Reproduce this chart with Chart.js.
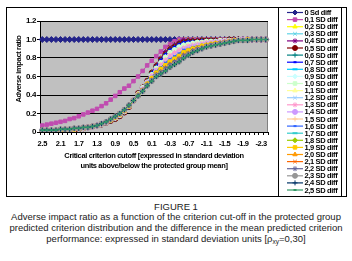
<!DOCTYPE html>
<html><head><meta charset="utf-8">
<script src="https://cdn.jsdelivr.net/npm/chart.js@4"></script>
<style>
html,body{margin:0;padding:0;background:#fff;width:352px;height:261px;overflow:hidden}
#wrap{position:relative;width:352px;height:261px}
canvas{position:absolute;left:0;top:0}
#cap{position:absolute;left:0;top:201.5px;width:352px;text-align:center;font-family:'Liberation Sans',Arial,sans-serif;font-size:9.5px;line-height:10.8px;color:#1a1a1a;white-space:nowrap}
#cap sub{font-size:6.5px;line-height:0;vertical-align:-2px}
</style></head><body>
<div id="wrap"><canvas id="c" width="352" height="200"></canvas>
<div id="cap">FIGURE 1<br>Adverse impact ratio as a function of the criterion cut-off in the protected group<br>predicted criterion distribution and the difference in the mean predicted criterion<br>performance: expressed in standard deviation units [ρ<sub>xy</sub>=0,30]</div></div>
<script>
// categories: criterion cutoff (SD units)
const cutoffs = ['2.5','2.4','2.3','2.2','2.1','2.0','1.9','1.8','1.7','1.6','1.5','1.4','1.3','1.2','1.1','1.0','0.9','0.8','0.7','0.6','0.5','0.4','0.3','0.2','0.1','0.0','-0.1','-0.2','-0.3','-0.4','-0.5','-0.6','-0.7','-0.8','-0.9','-1.0','-1.1','-1.2','-1.3','-1.4','-1.5','-1.6','-1.7','-1.8','-1.9','-2.0','-2.1','-2.2','-2.3','-2.4'];

const seriesNames = ['0 Sd diff','0,1 SD diff','0,2 SD diff','0,3 SD diff','0,4 SD diff','0,5 SD diff','0,6 SD diff','0,7 SD diff','0,8 SD diff','0,9 SD diff','1,0 SD diff','1,1 SD diff','1,2 SD diff','1,3 SD diff','1,4 SD diff','1,5 SD diff','1,6 SD diff','1,7 SD diff','1,8 SD diff','1,9 SD diff','2,0 SD diff','2,1 SD diff','2,2 SD diff','2,3 SD diff','2,4 SD diff','2,5 SD diff'];

// adverse impact ratio values
const ratio0SD = [1,1,1,1,1,1,1,1,1,1,1,1,1,1,1,1,1,1,1,1,1,1,1,1,1,1,1,1,1,1,1,1,1,1,1,1,1,1,1,1,1,1,1,1,1,1,1,1,1,1];
const ratio01SD = [0.07,0.08,0.09,0.10,0.11,0.12,0.14,0.15,0.17,0.19,0.21,0.23,0.25,0.28,0.31,0.35,0.39,0.43,0.47,0.50,0.55,0.60,0.66,0.72,0.77,0.82,0.87,0.92,0.95,0.98,1,1,1,1,1,1,1,1,1,1,1,1,1,1,1,1,1,1,1,1];
// the 0,2 - 2,5 SD curves overlap heavily; read as bands of three series each
const ratio02to04SD = [0.01,0.01,0.01,0.01,0.01,0.02,0.02,0.02,0.03,0.04,0.05,0.06,0.07,0.08,0.10,0.12,0.14,0.17,0.21,0.27,0.34,0.42,0.49,0.56,0.65,0.73,0.80,0.87,0.92,0.95,0.98,1,1,1,1,1,1,1,1,1,1,1,1,1,1,1,1,1,1,1];
const ratio05to07SD = [0.01,0.01,0.01,0.01,0.01,0.02,0.02,0.02,0.03,0.04,0.05,0.06,0.07,0.08,0.10,0.12,0.14,0.17,0.21,0.27,0.34,0.42,0.48,0.55,0.64,0.71,0.78,0.84,0.89,0.92,0.95,0.97,0.98,0.98,0.98,0.99,0.99,0.99,0.99,0.99,0.99,1,1,1,1,1,1,1,1,1];
const ratio08to10SD = [0.01,0.01,0.01,0.01,0.02,0.02,0.02,0.03,0.03,0.04,0.05,0.06,0.07,0.08,0.10,0.13,0.15,0.18,0.22,0.28,0.34,0.41,0.48,0.54,0.62,0.69,0.75,0.81,0.86,0.89,0.92,0.94,0.95,0.96,0.97,0.97,0.98,0.98,0.98,0.99,0.99,0.99,0.99,1,1,1,1,1,1,1];
const ratio11to13SD = [0.01,0.01,0.01,0.01,0.02,0.02,0.02,0.03,0.03,0.04,0.05,0.06,0.07,0.08,0.10,0.13,0.15,0.18,0.22,0.28,0.34,0.41,0.47,0.53,0.61,0.67,0.73,0.78,0.83,0.86,0.89,0.91,0.93,0.94,0.95,0.96,0.97,0.97,0.97,0.98,0.98,0.99,0.99,1,1,1,1,1,1,1];
const ratio14to16SD = [0.02,0.02,0.02,0.02,0.02,0.03,0.03,0.03,0.04,0.05,0.05,0.06,0.07,0.09,0.11,0.13,0.16,0.19,0.23,0.28,0.34,0.40,0.46,0.53,0.59,0.66,0.70,0.75,0.79,0.82,0.85,0.89,0.90,0.92,0.93,0.94,0.95,0.96,0.97,0.97,0.98,0.98,0.99,0.99,1,1,1,1,1,1];
const ratio17to19SD = [0.02,0.02,0.02,0.02,0.02,0.03,0.03,0.03,0.04,0.05,0.05,0.06,0.07,0.09,0.11,0.13,0.16,0.19,0.23,0.28,0.34,0.40,0.45,0.52,0.58,0.64,0.68,0.72,0.76,0.79,0.82,0.86,0.88,0.90,0.91,0.93,0.94,0.95,0.96,0.96,0.97,0.98,0.99,0.99,0.99,1,1,1,1,1];
const ratio20to22SD = [0.02,0.02,0.02,0.02,0.03,0.03,0.03,0.04,0.04,0.05,0.05,0.06,0.07,0.09,0.11,0.14,0.17,0.20,0.24,0.29,0.34,0.39,0.45,0.51,0.56,0.62,0.65,0.69,0.73,0.76,0.79,0.83,0.85,0.88,0.90,0.91,0.93,0.94,0.95,0.96,0.97,0.97,0.98,0.99,0.99,0.99,1,1,1,1];
const ratio23to25SD = [0.02,0.02,0.02,0.02,0.03,0.03,0.03,0.04,0.04,0.05,0.05,0.06,0.07,0.09,0.11,0.14,0.17,0.20,0.24,0.29,0.34,0.39,0.44,0.50,0.55,0.60,0.63,0.66,0.70,0.73,0.76,0.80,0.83,0.86,0.88,0.90,0.92,0.93,0.94,0.95,0.96,0.97,0.98,0.99,0.99,0.99,1,1,1,1];

const seriesData = [ratio0SD, ratio01SD,
  ratio02to04SD, ratio02to04SD, ratio02to04SD,
  ratio05to07SD, ratio05to07SD, ratio05to07SD,
  ratio08to10SD, ratio08to10SD, ratio08to10SD,
  ratio11to13SD, ratio11to13SD, ratio11to13SD,
  ratio14to16SD, ratio14to16SD, ratio14to16SD,
  ratio17to19SD, ratio17to19SD, ratio17to19SD,
  ratio20to22SD, ratio20to22SD, ratio20to22SD,
  ratio23to25SD, ratio23to25SD, ratio23to25SD];

const yTicks = [0, 0.2, 0.4, 0.6, 0.8, 1, 1.2];

const colors = ['#23238a','#c04cb0','#ffff00','#5fd4e6','#800080','#800000','#008080','#0000ff','#00ccff','#ccffff','#ccffcc','#ffff99','#99ccff','#ff99cc','#cc99ff','#ffcc99','#3366ff','#33cccc','#99cc00','#ffcc00','#ff9900','#ff6600','#666699','#969696','#003366','#339966'];
const markers = ['rectRot','rect','triangle','crossRot','star','circle','cross','line','line'];

const FONT = "'Liberation Sans',Arial,sans-serif";
const SPACING = '-0.35px';
const N = seriesNames.length;

const datasets = seriesNames.map((name, i) => {
  const m = markers[i % 9];
  return {
    label: name,
    data: seriesData[i],
    borderColor: colors[i],
    backgroundColor: colors[i],
    pointBackgroundColor: colors[i],
    pointBorderColor: colors[i],
    pointStyle: m,
    pointRadius: m === 'line' ? (i % 9 === 7 ? 1.5 : 2.5) : (i === 0 ? 3 : 2.5),
    pointBorderWidth: m === 'line' ? 2 : 1,
    borderWidth: 1,
    fill: false,
    tension: 0,
    order: N - i
  };
});

const plotBg = {
  id: 'plotBg',
  beforeDraw(chart) {
    const {ctx, chartArea: a} = chart;
    ctx.letterSpacing = SPACING;
    ctx.save();
    ctx.fillStyle = '#c0c0c0';
    ctx.fillRect(a.left, a.top, a.right - a.left, a.bottom - a.top);
    ctx.strokeStyle = '#808080';
    ctx.lineWidth = 1;
    ctx.strokeRect(a.left + 0.5, a.top + 0.5, a.right - a.left - 1, a.bottom - a.top);
    ctx.restore();
  }
};

function drawMarker(ctx, style, r, bw, x, y) {
  if (Chart.helpers && Chart.helpers.drawPoint) {
    ctx.lineWidth = bw;
    Chart.helpers.drawPoint(ctx, {pointStyle: style, radius: r, rotation: 0, borderWidth: bw}, x, y);
  }
}

const frame = {
  id: 'frame',
  afterDraw(chart) {
    const ctx = chart.ctx;
    ctx.save();
    ctx.letterSpacing = SPACING;
    ctx.strokeStyle = '#000';
    ctx.lineWidth = 1;
    ctx.strokeRect(6.5, 7.5, 340, 189);
    ctx.strokeRect(278.5, 7.5, 63, 189);
    // y axis title
    ctx.save();
    ctx.translate(19, 69);
    ctx.rotate(-Math.PI / 2);
    ctx.fillStyle = '#000';
    ctx.font = "bold 7.5px " + FONT;
    ctx.textAlign = 'center';
    ctx.textBaseline = 'middle';
    ctx.fillText('Adverse impact ratio', 0, 0);
    ctx.restore();
    // legend entries
    const ds = chart.data.datasets;
    ds.forEach((d, i) => {
      const y = 12.5 + i * 7.1;
      ctx.strokeStyle = d.borderColor;
      ctx.lineWidth = 1.2;
      ctx.beginPath();
      ctx.moveTo(287, y);
      ctx.lineTo(303, y);
      ctx.stroke();
      ctx.fillStyle = d.pointBackgroundColor;
      ctx.strokeStyle = d.pointBorderColor;
      drawMarker(ctx, d.pointStyle, Math.min(d.pointRadius, 2.5), d.pointBorderWidth, 295, y);
      ctx.fillStyle = '#000';
      ctx.font = "bold 7.5px " + FONT;
      ctx.textBaseline = 'middle';
      ctx.textAlign = 'left';
      ctx.fillText(d.label, 304.5, y + 0.5);
    });
    ctx.restore();
  }
};

new Chart(document.getElementById('c'), {
  type: 'line',
  data: { labels: cutoffs, datasets },
  options: {
    responsive: false,
    animation: false,
    devicePixelRatio: 1,
    layout: { padding: { left: 6, right: 84, top: 21, bottom: 0 } },
    plugins: { legend: { display: false }, tooltip: { enabled: false } },
    scales: {
      x: {
        type: 'category',
        offset: true,
        grid: { display: true, drawOnChartArea: false, drawTicks: true, tickLength: 3, offset: true, color: '#000' },
        border: { color: '#000' },
        ticks: {
          autoSkip: false, maxRotation: 0, minRotation: 0, padding: 4, color: '#000',
          font: { family: FONT, size: 7.5, weight: 'bold' },
          callback: (v, i) => (i % 4 === 0 ? cutoffs[i] : '')
        },
        title: {
          display: true,
          text: ['Critical criterion cutoff [expressed in standard deviation', 'units above/below the protected group mean]'],
          color: '#000',
          font: { family: FONT, size: 7.5, weight: 'bold', lineHeight: 1.35 },
          padding: { top: 0, bottom: 29 }
        },
        afterFit(s) { s.height = 68; }
      },
      y: {
        min: 0, max: 1.2,
        afterBuildTicks(s) { s.ticks = yTicks.map(v => ({ value: v })); },
        grid: { color: '#000', tickLength: 3 },
        border: { color: '#000' },
        ticks: { padding: 1, color: '#000', font: { family: FONT, size: 8, weight: 'bold' } },
        title: { display: false },
        afterFit(s) { s.width = 34; }
      }
    }
  },
  plugins: [plotBg, frame]
});
</script>
</body></html>
